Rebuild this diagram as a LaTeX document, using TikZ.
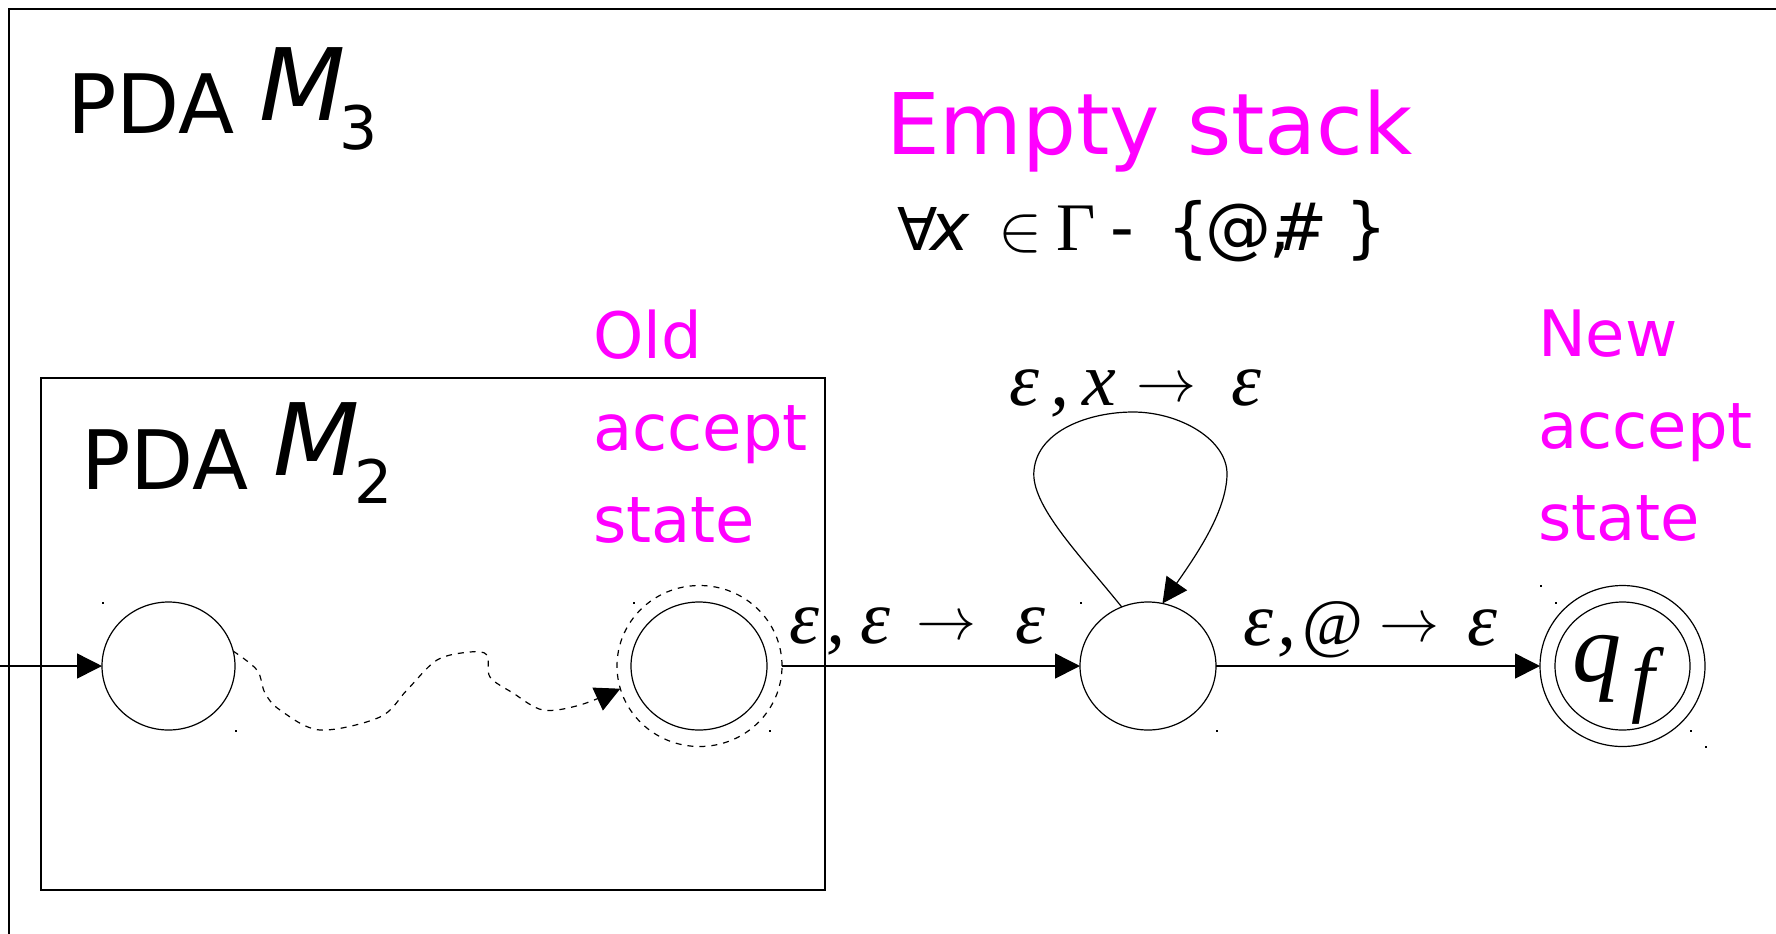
\RequirePackage{fix-cm}
\documentclass[tikz,border=0pt]{standalone}
\usepackage{fontspec}
\setmainfont{DejaVu Sans}
\newfontfamily\tms{Liberation Serif}
\usetikzlibrary{arrows.meta,shapes.geometric}
\definecolor{mag}{RGB}{255,0,255}
\newcommand{\myep}{{\tms\itshape\fontsize{38}{40}\selectfont ε}}
\newcommand{\mycm}{{\tms\itshape\fontsize{38}{40}\selectfont ,}}
\newcommand{\myar}{\raisebox{2pt}{\fontsize{30}{30}\selectfont$\rightarrow$}}
\begin{document}
\begin{tikzpicture}[x=0.5pt,y=-0.5pt,
  txt/.style={inner sep=0pt,outer sep=0pt,anchor=base west},
  pst/.style={ellipse,draw,line width=0.6pt,inner sep=0pt,outer sep=0pt,minimum width=66.5pt,minimum height=64pt},
  pout/.style={ellipse,draw,line width=0.6pt,inner sep=0pt,outer sep=0pt,minimum width=82.5pt,minimum height=80.5pt},
  tr/.style={-{Triangle[length=12.5pt,width=12.5pt]},line width=0.75pt},
  boxline/.style={line width=0.85pt},
  dotmark/.style={fill=black}]
\useasboundingbox (0,0) rectangle (1776,933);
\clip (0,0) rectangle (1776,933);
% boxes
\draw[boxline] (9,9) rectangle (1800,960);
\draw[boxline] (41,378) rectangle (825,890);
% titles
\node[txt] (pda3) at (67,133) {\fontsize{41}{41}\selectfont PDA};
\node[txt] (m3) at (259,120) {\fontsize{50}{50}\selectfont\itshape M};
\node[txt] (s3) at (339,149) {\fontsize{30}{30}\selectfont 3};
\node[txt] (pda2) at (81,489) {\fontsize{41}{41}\selectfont PDA};
\node[txt] (m2) at (273,475) {\fontsize{50}{50}\selectfont\itshape M};
\node[txt] (s2) at (354,503) {\fontsize{30}{30}\selectfont 2};
\node[txt,text=mag] (empty) at (886,154) {\fontsize{42.5}{42.5}\selectfont Empty stack};
\node[txt] (forall) at (897,250) {\fontsize{29.5}{30}\selectfont
  \makebox[16.5pt][l]{∀}\makebox[34pt][l]{\fontsize{33}{33}\selectfont\itshape x}\makebox[29pt][l]{\fontsize{33}{33}\selectfont$\in$}\makebox[27pt][l]{\tms\fontsize{34}{34}\selectfont Γ}\fontsize{33}{33}\selectfont\makebox[29pt][l]{-}\makebox[18.5pt][l]{\{}\makebox[32pt][l]{@}\makebox[1.5pt][l]{,}\makebox[37pt][l]{\#}\}};
\node[txt,text=mag,align=left,font=\fontsize{32}{46}\selectfont] (oldlab) at (593,542) {Old\\accept\\state};
\node[txt,text=mag,align=left,font=\fontsize{32}{46}\selectfont] (newlab) at (1538,540) {New\\accept\\state};
% states
\node[pst] (s1) at (168.5,666) {};
\node[pst,minimum width=68pt] (oldin) at (699,666) {};
\node[pout,dashed] (old) at (699.5,666) {};
\node[pst,minimum width=68pt] (mid) at (1148,666) {};
\node[pst,minimum width=67.5pt] (qfin) at (1622.5,666) {};
\node[pout] (qf) at (1622.5,666) {};
\node[txt] (qlab) at (1572,681) {{\tms\itshape\fontsize{49}{49}\selectfont q}\hspace{5pt}\raisebox{-12.5pt}{\tms\itshape\fontsize{42}{42}\selectfont f}};
\coordinate (start) at (0,666);
% connectors
\draw[tr] (start) -- (s1.west);
\draw[tr,dashed,line width=0.6pt] plot[smooth,tension=0.55] coordinates {(s1.13) (257,670) (265,693) (280,710) (320,730) (380,717) (407,690) (437,660) (470,652) (487,655) (490,677) (513,693) (543,710) (580,705) (old.196)};
\draw[tr] (old.east) -- (mid.west);
\draw[tr] (mid.east) -- (qf.west);
\draw[tr,line width=0.6pt] (mid.114) .. controls (1080,555) and (1030,505) .. (1034,470)
  .. controls (1038,430) and (1090,412) .. (1133,412)
  .. controls (1180,412) and (1228,440) .. (1227,475)
  .. controls (1226,510) and (1200,550) .. (mid.77);
% labels
\node[txt] (lab1) at (789,643) {\makebox[19pt][l]{\myep}\makebox[17pt][l]{\mycm}\makebox[27.5pt][l]{\myep}\makebox[49.5pt][l]{\myar}\myep};
\node[txt] (lab2) at (1243,645) {\makebox[17.5pt][l]{\myep}\makebox[12pt][l]{\mycm}\makebox[38.5pt][l]{\tms\fontsize{33}{33}\selectfont @}\makebox[44pt][l]{\myar}\myep};
\node[txt] (lab3) at (1009,405) {\makebox[21pt][l]{\myep}\makebox[16pt][l]{\mycm}\makebox[26.5pt][l]{\tms\itshape\fontsize{38}{40}\selectfont x}\makebox[47.5pt][l]{\myar}\myep};
% corner dots
\foreach \p in {(102,602),(235,730),(633,602),(769,730),(1080,602),(1216,730),(1540,585),(1555,602),(1690,730),(1705,746)}
  \fill[dotmark] \p rectangle +(2,2);
\end{tikzpicture}
\end{document}
